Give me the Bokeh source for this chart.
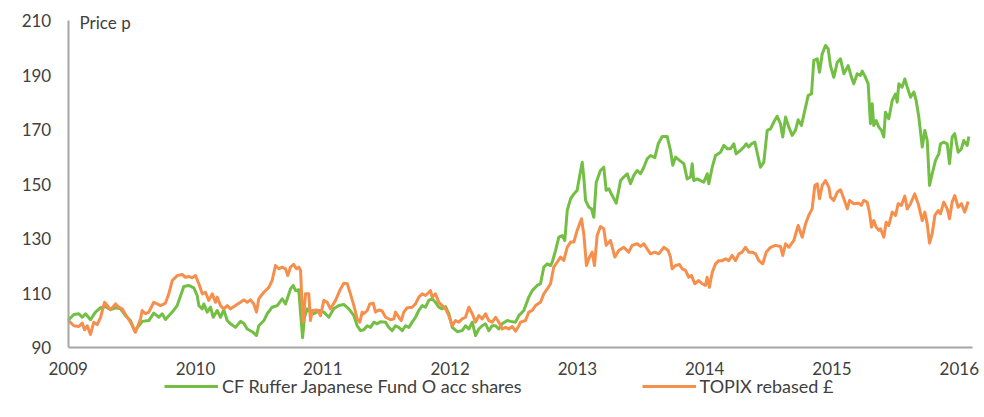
from bokeh.plotting import figure
from bokeh.models import (FixedTicker, PrintfTickFormatter, Legend, LegendItem,
                          Label, Range1d)
from bokeh.embed import file_html
from bokeh.resources import INLINE

# ---------------- data ----------------
fund_years = [
    2009.000, 2009.044, 2009.083, 2009.110, 2009.136, 2009.175, 2009.214, 2009.254,
    2009.293, 2009.332, 2009.372, 2009.411, 2009.450, 2009.489, 2009.521, 2009.555,
    2009.581, 2009.633, 2009.672, 2009.712, 2009.738, 2009.764, 2009.817, 2009.856,
    2009.888, 2009.908, 2009.947, 2009.987, 2010.013, 2010.026, 2010.053, 2010.065,
    2010.092, 2010.118, 2010.139, 2010.170, 2010.196, 2010.222, 2010.249, 2010.275,
    2010.314, 2010.353, 2010.379, 2010.406, 2010.445, 2010.479, 2010.497, 2010.537,
    2010.563, 2010.602, 2010.642, 2010.681, 2010.707, 2010.746, 2010.767, 2010.786,
    2010.811, 2010.830, 2010.841, 2010.856, 2010.877, 2010.903, 2010.929, 2010.969,
    2011.008, 2011.047, 2011.086, 2011.126, 2011.165, 2011.204, 2011.244, 2011.270,
    2011.296, 2011.322, 2011.349, 2011.375, 2011.401, 2011.427, 2011.453, 2011.493,
    2011.518, 2011.545, 2011.571, 2011.597, 2011.624, 2011.650, 2011.676, 2011.702,
    2011.728, 2011.754, 2011.781, 2011.807, 2011.833, 2011.859, 2011.885, 2011.911,
    2011.938, 2011.964, 2011.990, 2012.017, 2012.056, 2012.095, 2012.121, 2012.147,
    2012.174, 2012.200, 2012.225, 2012.252, 2012.278, 2012.304, 2012.331, 2012.357,
    2012.383, 2012.409, 2012.449, 2012.474, 2012.514, 2012.540, 2012.579, 2012.618,
    2012.645, 2012.684, 2012.710, 2012.736, 2012.763, 2012.789, 2012.802, 2012.828,
    2012.854, 2012.881, 2012.901, 2012.920, 2012.946, 2012.972, 2012.998, 2013.016,
    2013.038, 2013.050, 2013.064, 2013.090, 2013.111, 2013.129, 2013.148, 2013.181,
    2013.207, 2013.226, 2013.247, 2013.273, 2013.305, 2013.339, 2013.364, 2013.391,
    2013.417, 2013.443, 2013.470, 2013.496, 2013.522, 2013.548, 2013.574, 2013.608,
    2013.635, 2013.666, 2013.705, 2013.731, 2013.749, 2013.771, 2013.802, 2013.836,
    2013.862, 2013.889, 2013.902, 2013.914, 2013.941, 2013.967, 2013.993, 2014.020,
    2014.032, 2014.059, 2014.085, 2014.124, 2014.150, 2014.177, 2014.203, 2014.229,
    2014.247, 2014.281, 2014.307, 2014.326, 2014.346, 2014.368, 2014.394, 2014.420,
    2014.438, 2014.464, 2014.491, 2014.517, 2014.543, 2014.569, 2014.595, 2014.613,
    2014.635, 2014.661, 2014.687, 2014.713, 2014.734, 2014.760, 2014.786, 2014.813,
    2014.839, 2014.857, 2014.884, 2014.902, 2014.923, 2014.949, 2014.970, 2014.988,
    2015.014, 2015.041, 2015.067, 2015.093, 2015.127, 2015.153, 2015.171, 2015.198,
    2015.224, 2015.237, 2015.263, 2015.284, 2015.302, 2015.316, 2015.328, 2015.347,
    2015.368, 2015.389, 2015.407, 2015.420, 2015.446, 2015.473, 2015.499, 2015.512,
    2015.525, 2015.551, 2015.572, 2015.591, 2015.617, 2015.643, 2015.661, 2015.682,
    2015.709, 2015.729, 2015.748, 2015.766, 2015.787, 2015.813, 2015.839, 2015.852,
    2015.878, 2015.905, 2015.923, 2015.944, 2015.964, 2015.991, 2016.017, 2016.035,
    2016.062, 2016.075,
]
fund_values = [
    100.0, 102.1, 102.4, 101.1, 102.4, 100.2, 103.0, 104.6,
    105.0, 103.9, 104.6, 104.2, 101.7, 99.9, 96.2, 98.0,
    99.6, 99.9, 102.6, 101.1, 102.4, 100.3, 103.0, 105.4,
    109.7, 112.4, 112.8, 111.9, 109.1, 105.4, 104.2, 106.0,
    103.0, 104.8, 101.1, 103.6, 101.1, 103.8, 99.9, 98.7,
    97.4, 99.6, 98.9, 96.8, 95.8, 94.4, 98.0, 99.9,
    102.4, 104.8, 105.4, 107.9, 106.0, 111.5, 112.8, 110.9,
    111.2, 99.9, 93.6, 101.1, 104.2, 103.0, 102.4, 103.6,
    103.0, 101.1, 104.2, 105.4, 105.8, 104.2, 101.7, 98.0,
    96.2, 96.5, 98.0, 97.4, 99.3, 98.7, 99.5, 99.3,
    97.4, 96.2, 98.0, 97.4, 96.2, 98.0, 97.4, 99.3,
    101.1, 103.6, 105.4, 104.8, 107.3, 107.9, 106.6, 104.8,
    104.2, 105.0, 102.4, 97.4, 95.8, 96.2, 98.0, 96.8,
    99.3, 94.4, 96.8, 98.0, 98.7, 96.2, 98.0, 98.0,
    96.8, 98.7, 99.9, 99.6, 99.3, 101.7, 103.6, 108.5,
    110.9, 112.8, 113.4, 119.5, 120.7, 120.1, 121.3, 125.6,
    130.5, 131.1, 129.3, 140.3, 144.6, 146.4, 147.7, 152.6,
    158.0, 152.6, 144.0, 141.5, 140.9, 137.8, 150.7, 155.0,
    156.2, 147.7, 148.3, 145.8, 143.0, 151.3, 152.6, 153.8,
    150.1, 153.2, 155.0, 153.8, 156.2, 159.3, 160.5, 159.7,
    164.8, 167.5, 167.5, 162.4, 156.9, 159.9, 158.7, 157.5,
    151.9, 152.6, 157.5, 151.3, 151.9, 151.3, 150.7, 153.8,
    150.1, 156.2, 160.5, 161.7, 164.2, 163.0, 163.0, 164.8,
    161.1, 162.4, 163.6, 164.8, 163.6, 164.8, 165.4, 159.9,
    156.2, 158.0, 169.7, 170.3, 172.8, 174.9, 172.2, 167.3,
    174.6, 170.9, 167.9, 169.7, 173.6, 171.5, 177.0, 182.6,
    183.1, 195.4, 196.0, 191.1, 197.8, 200.9, 199.6, 193.5,
    189.2, 194.7, 196.0, 190.5, 193.5, 189.2, 186.8, 190.5,
    189.9, 191.5, 189.2, 186.8, 172.2, 179.5, 171.5, 173.3,
    170.9, 169.7, 167.3, 176.4, 174.0, 180.7, 183.1, 180.1,
    186.8, 185.6, 188.6, 185.6, 181.9, 183.8, 180.7, 174.6,
    163.6, 169.7, 166.0, 149.5, 153.8, 158.7, 161.1, 164.8,
    165.4, 164.8, 157.5, 167.3, 168.5, 161.7, 163.0, 166.0,
    164.2, 167.5,
]

topix_years = [
    2009.000, 2009.044, 2009.083, 2009.110, 2009.128, 2009.149, 2009.175, 2009.201,
    2009.228, 2009.254, 2009.285, 2009.306, 2009.332, 2009.372, 2009.397, 2009.424,
    2009.463, 2009.489, 2009.528, 2009.568, 2009.581, 2009.607, 2009.633, 2009.672,
    2009.699, 2009.725, 2009.764, 2009.790, 2009.817, 2009.856, 2009.895, 2009.921,
    2009.947, 2009.974, 2010.000, 2010.026, 2010.053, 2010.078, 2010.104, 2010.131,
    2010.157, 2010.170, 2010.196, 2010.222, 2010.249, 2010.275, 2010.314, 2010.353,
    2010.379, 2010.406, 2010.432, 2010.458, 2010.479, 2010.497, 2010.537, 2010.576,
    2010.602, 2010.628, 2010.654, 2010.681, 2010.707, 2010.725, 2010.746, 2010.772,
    2010.793, 2010.811, 2010.825, 2010.838, 2010.846, 2010.864, 2010.890, 2010.903,
    2010.917, 2010.956, 2010.982, 2011.008, 2011.034, 2011.060, 2011.100, 2011.139,
    2011.165, 2011.192, 2011.217, 2011.244, 2011.270, 2011.291, 2011.309, 2011.322,
    2011.349, 2011.369, 2011.396, 2011.414, 2011.440, 2011.466, 2011.493, 2011.532,
    2011.558, 2011.571, 2011.597, 2011.616, 2011.636, 2011.663, 2011.702, 2011.728,
    2011.754, 2011.781, 2011.807, 2011.833, 2011.846, 2011.859, 2011.885, 2011.911,
    2011.938, 2011.964, 2011.990, 2012.017, 2012.042, 2012.068, 2012.095, 2012.121,
    2012.147, 2012.174, 2012.200, 2012.225, 2012.252, 2012.278, 2012.304, 2012.331,
    2012.357, 2012.383, 2012.409, 2012.435, 2012.461, 2012.488, 2012.514, 2012.540,
    2012.553, 2012.592, 2012.618, 2012.645, 2012.671, 2012.710, 2012.736, 2012.763,
    2012.789, 2012.814, 2012.841, 2012.867, 2012.893, 2012.920, 2012.946, 2012.972,
    2012.998, 2013.032, 2013.050, 2013.071, 2013.095, 2013.116, 2013.134, 2013.155,
    2013.181, 2013.207, 2013.226, 2013.260, 2013.294, 2013.325, 2013.364, 2013.403,
    2013.430, 2013.470, 2013.496, 2013.522, 2013.548, 2013.574, 2013.608, 2013.639,
    2013.678, 2013.713, 2013.731, 2013.744, 2013.771, 2013.802, 2013.823, 2013.849,
    2013.875, 2013.896, 2013.922, 2013.953, 2013.980, 2014.006, 2014.019, 2014.037,
    2014.059, 2014.085, 2014.110, 2014.137, 2014.163, 2014.189, 2014.216, 2014.242,
    2014.268, 2014.294, 2014.320, 2014.346, 2014.373, 2014.399, 2014.425, 2014.456,
    2014.483, 2014.517, 2014.556, 2014.595, 2014.613, 2014.635, 2014.661, 2014.700,
    2014.734, 2014.766, 2014.792, 2014.817, 2014.844, 2014.865, 2014.884, 2014.902,
    2014.923, 2014.949, 2014.975, 2014.988, 2015.014, 2015.041, 2015.067, 2015.093,
    2015.120, 2015.138, 2015.171, 2015.210, 2015.231, 2015.249, 2015.276, 2015.294,
    2015.310, 2015.328, 2015.347, 2015.368, 2015.381, 2015.407, 2015.425, 2015.446,
    2015.473, 2015.499, 2015.520, 2015.545, 2015.572, 2015.591, 2015.617, 2015.650,
    2015.677, 2015.709, 2015.729, 2015.748, 2015.766, 2015.787, 2015.808, 2015.834,
    2015.852, 2015.878, 2015.905, 2015.923, 2015.944, 2015.964, 2015.991, 2016.017,
    2016.043, 2016.070,
]
topix_values = [
    100.0, 98.0, 97.7, 99.0, 96.5, 98.0, 94.8, 99.3,
    98.4, 101.1, 106.6, 105.4, 103.9, 106.0, 104.8, 104.2,
    101.1, 99.3, 95.6, 100.5, 103.6, 102.4, 103.0, 106.6,
    106.0, 105.4, 106.3, 109.7, 114.6, 116.4, 116.8, 115.8,
    116.1, 115.6, 116.4, 113.4, 109.7, 110.3, 107.3, 109.7,
    106.6, 108.5, 105.4, 104.2, 105.4, 104.2, 105.4, 106.6,
    107.5, 106.6, 107.5, 106.0, 103.0, 107.9, 110.3, 112.1,
    114.6, 120.1, 118.9, 119.5, 118.9, 116.4, 119.5, 120.5,
    118.9, 119.5, 118.3, 104.8, 99.3, 109.7, 109.7, 99.9,
    103.6, 103.8, 101.7, 107.3, 106.6, 104.2, 107.3, 111.5,
    113.6, 113.4, 109.7, 105.4, 100.5, 99.3, 103.0, 102.4,
    103.6, 106.0, 106.3, 103.0, 103.8, 103.4, 101.1, 100.2,
    100.5, 103.0, 101.1, 99.9, 103.0, 104.6, 104.8, 106.0,
    108.5, 109.7, 109.1, 110.3, 110.9, 108.5, 109.7, 106.6,
    105.4, 104.2, 101.7, 98.0, 99.9, 99.3, 100.5, 101.1,
    104.8, 102.4, 99.3, 101.7, 100.5, 102.4, 99.9, 99.3,
    101.1, 99.3, 96.8, 97.4, 96.8, 97.7, 96.0, 98.0,
    99.3, 99.9, 103.0, 103.6, 105.4, 106.6, 109.7, 111.5,
    113.4, 119.5, 121.3, 123.2, 122.0, 126.8, 128.7, 128.7,
    133.0, 137.3, 131.8, 120.1, 123.2, 125.0, 120.1, 131.1,
    134.4, 133.6, 127.5, 129.3, 123.2, 125.6, 126.8, 125.0,
    127.5, 128.1, 127.1, 128.1, 126.2, 124.4, 125.0, 124.4,
    126.8, 125.6, 123.2, 118.9, 120.1, 120.5, 118.9, 118.3,
    115.8, 116.4, 113.4, 114.6, 113.4, 112.8, 115.8, 112.1,
    117.6, 120.7, 121.9, 121.9, 122.6, 121.9, 123.8, 121.9,
    124.4, 125.0, 126.8, 125.0, 125.0, 124.4, 121.9, 120.7,
    125.0, 126.8, 127.5, 127.1, 123.8, 128.1, 126.8, 129.3,
    134.8, 130.5, 135.4, 138.5, 140.9, 149.5, 150.1, 144.6,
    149.5, 151.3, 148.9, 145.2, 144.0, 147.0, 147.9, 144.6,
    140.9, 144.0, 142.8, 143.0, 142.2, 144.0, 143.4, 139.7,
    134.2, 136.6, 134.2, 133.0, 133.6, 130.5, 136.0, 134.8,
    139.7, 138.5, 142.8, 142.2, 145.6, 140.9, 142.8, 146.4,
    142.8, 136.6, 139.7, 135.4, 128.3, 131.8, 138.5, 140.3,
    139.1, 143.4, 140.9, 137.3, 143.4, 145.8, 141.5, 142.8,
    139.7, 143.6,
]

x_ticks = [2009, 2010, 2011, 2012, 2013, 2014, 2015, 2016]
y_ticks = [90, 110, 130, 150, 170, 190, 210]
fund_label = "CF Ruffer Japanese Fund O acc shares"
topix_label = "TOPIX rebased £"
y_title = "Price p"

# ---------------- styling ----------------
FONT = "Lato"
TEXT = "#404040"
GREEN = "#72bf44"
ORANGE = "#f68e4c"
AXIS = "#a6a6a6"

# The frame fills the whole canvas; both axes are pinned inside it
# (x axis at 90, y axis at 2009), so tick labels and the legend below the
# x axis all sit inside the frame.
p = figure(width=980, height=409, frame_width=980, frame_height=409,
           output_backend="svg", toolbar_location=None,
           x_range=Range1d(2008.468, 2016.1665),
           y_range=Range1d(67.24, 217.41),
           min_border_left=0, min_border_right=0, min_border_top=0,
           min_border_bottom=0)

p.outline_line_color = None
p.xgrid.visible = False
p.ygrid.visible = False
p.background_fill_color = "white"
p.border_fill_color = "white"

g = p.line(fund_years, fund_values, line_color=GREEN, line_width=3,
           line_join="round")
o = p.line(topix_years, topix_values, line_color=ORANGE, line_width=3,
           line_join="round")

p.xaxis.ticker = FixedTicker(ticks=x_ticks)
p.yaxis.ticker = FixedTicker(ticks=y_ticks)
p.xaxis.formatter = PrintfTickFormatter(format="%d")
p.yaxis.formatter = PrintfTickFormatter(format="%d")
p.xaxis.fixed_location = 90
p.yaxis.fixed_location = 2009
p.xaxis.axis_label = None
p.yaxis.axis_label = None
p.xaxis.bounds = (2009, 2016.1)
p.yaxis.bounds = (90, 210)

for ax in (p.xaxis[0], p.yaxis[0]):
    ax.axis_line_color = AXIS
    ax.axis_line_width = 2
    ax.major_tick_line_color = None
    ax.minor_tick_line_color = None
    ax.major_tick_out = 0
    ax.major_tick_in = 0
    ax.minor_tick_out = 0
    ax.minor_tick_in = 0
    ax.major_label_text_font = FONT
    ax.major_label_text_font_size = "17px"
    ax.major_label_text_color = TEXT
p.yaxis.major_label_standoff = 17
p.xaxis.major_label_standoff = 14

p.add_layout(Label(x=2009.089, y=209.2, text=y_title, text_baseline="middle",
                   text_font=FONT, text_font_size="17px", text_color=TEXT))

legend = Legend(items=[LegendItem(label=fund_label, renderers=[g]),
                       LegendItem(label=topix_label, renderers=[o])],
                orientation="horizontal", location=(164, 12),
                glyph_width=54, glyph_height=20, label_height=20,
                label_standoff=4, spacing=120,
                padding=0, margin=0,
                border_line_color=None, background_fill_alpha=0,
                label_text_font=FONT, label_text_font_size="18px",
                label_text_color=TEXT)
p.add_layout(legend, "center")

open("out.html", "w").write(file_html(p, INLINE))
